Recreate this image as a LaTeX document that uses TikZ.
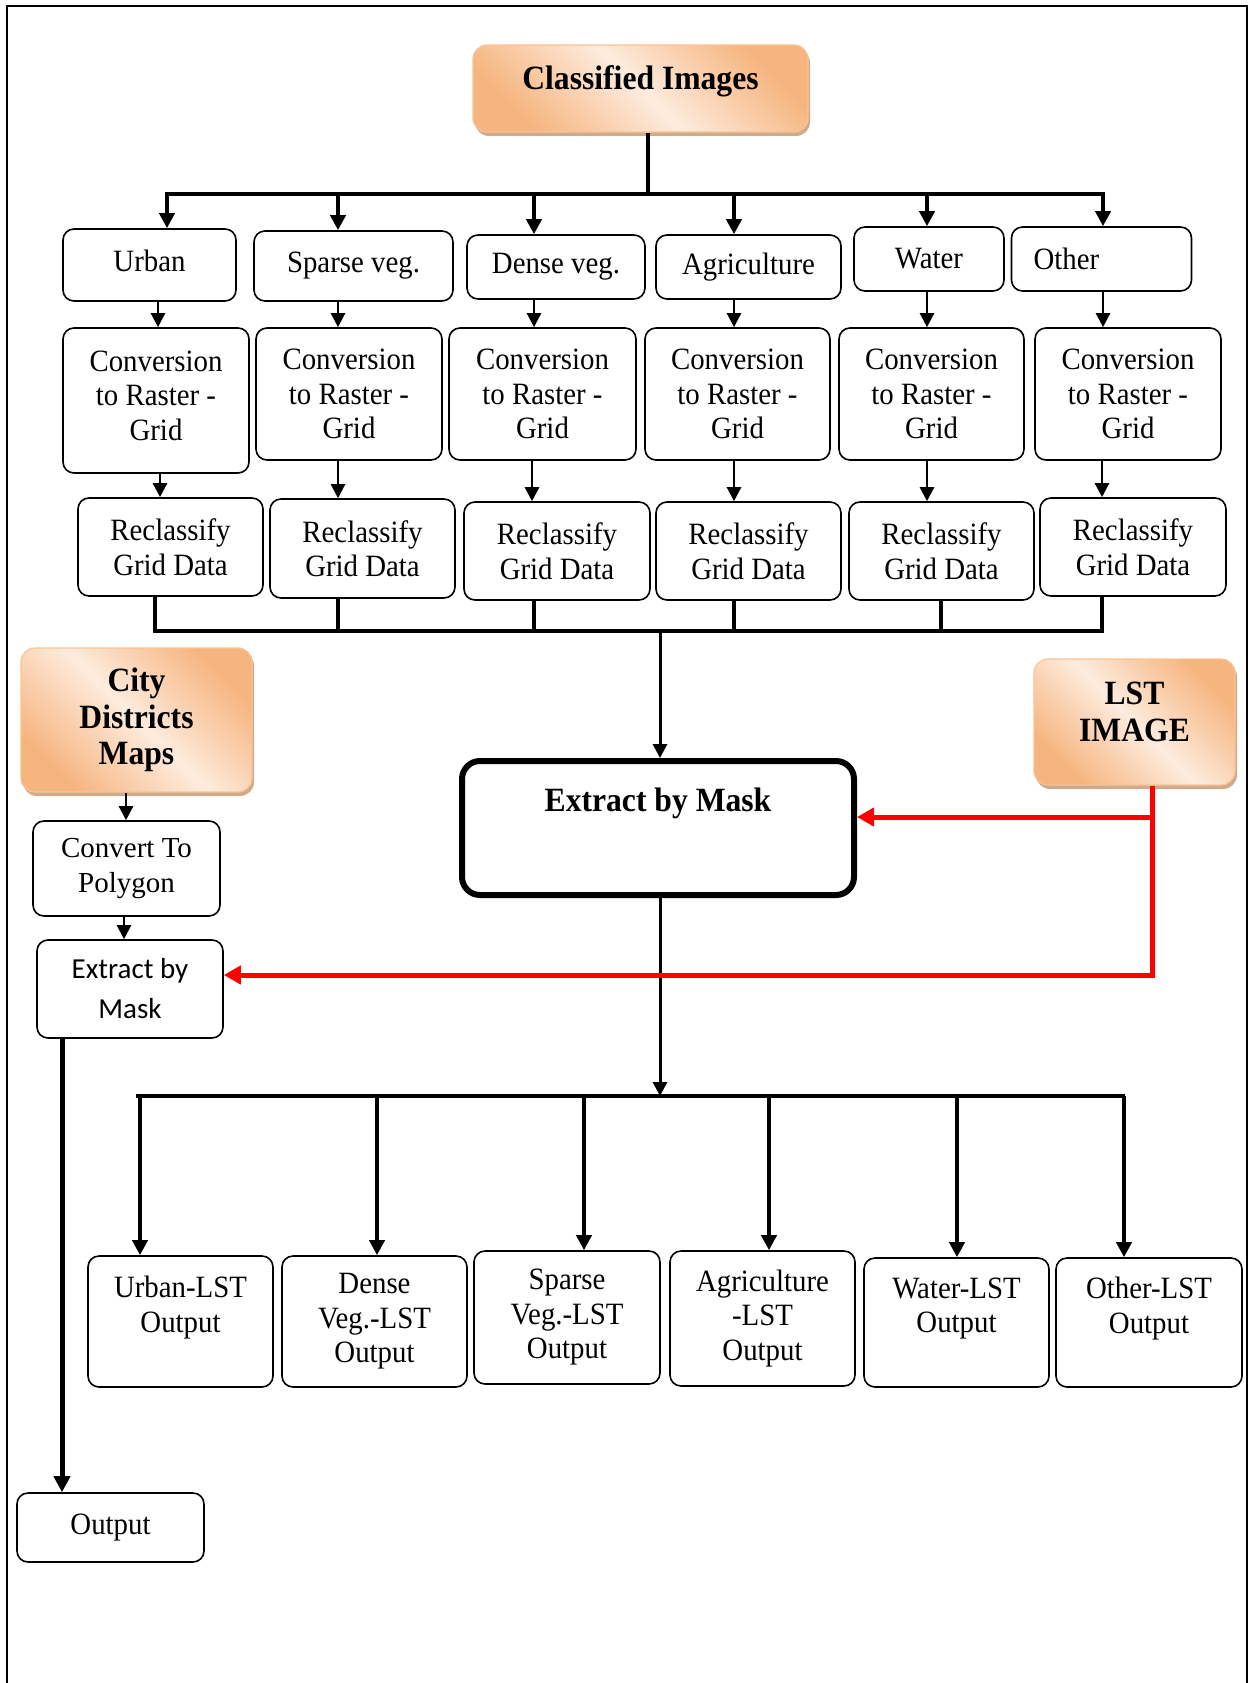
\documentclass[tikz,border=0pt]{standalone}
\usepackage{fontspec}
\setmainfont{Liberation Serif}[FakeStretch=0.93]
\newfontfamily\polyfont{Liberation Serif}
\newfontfamily\calfont{Carlito}
\usetikzlibrary{arrows.meta,shadows,calc}
\definecolor{pkd}{RGB}{246,180,126}
\definecolor{pkl}{RGB}{253,236,222}
\definecolor{pkb}{RGB}{248,196,150}
\definecolor{pks}{RGB}{196,150,112}
\newcommand\myfs{\fontsize{31}{34.5}\selectfont}
\newcommand\myfb{\fontsize{34}{36.5}\selectfont\bfseries}
\newcommand\mypoly{\polyfont\fontsize{29}{35}\selectfont}
\newcommand\mycal{\calfont\fontsize{29}{40}\selectfont}
\begin{document}
\begin{tikzpicture}[x=1pt,y=-1pt,
  box/.style={draw, line width=1.6pt, rounded corners=11pt, align=center, inner sep=0pt, font=\myfs},
  obox/.style={draw=pkb, line width=1.2pt, rounded corners=14pt, align=center, inner sep=0pt, font=\myfb,
     top color=pkd, bottom color=pkd, middle color=pkl, shading angle=-45,
     drop shadow={shadow xshift=2pt, shadow yshift=-4pt, fill=pks, opacity=0.8}},
  thinarrow/.style={line width=2.4pt, -{Triangle[length=14pt,width=14pt]}},
  busline/.style={line width=4pt},
  busarrow/.style={line width=4pt, -{Triangle[length=15pt,width=15pt]}},
  redarrow/.style={line width=5pt, color=red, -{Triangle[length=17pt,width=18pt]}},
]
\useasboundingbox (0,0) rectangle (1250,1683);
\fill[white] (0,0) rectangle (1250,1683);
\draw[line width=2.5pt] (7,1695) -- (7,6) -- (1247,6) -- (1247,1695);

% source boxes
\node[obox, minimum width=335, minimum height=87] (class) at (640.5,88.5) {Classified Images\\[-15pt]\mbox{}};
\node[obox, minimum width=231, minimum height=144] (city) at (136.5,720) {City\\Districts\\Maps};
\node[obox, minimum width=201, minimum height=126] (lst) at (1134.5,722) {LST\\IMAGE\\[-16pt]\mbox{}};

% categories
\node[box, minimum width=173, minimum height=72] (cat1) at (149.5,265) {Urban\\[-26pt]\mbox{}};
\node[box, minimum width=199, minimum height=70] (cat2) at (353.5,266) {Sparse veg.};
\node[box, minimum width=178, minimum height=64] (cat3) at (556,267) {Dense veg.};
\node[box, minimum width=185, minimum height=64] (cat4) at (748.5,267) {Agriculture};
\node[box, minimum width=150, minimum height=64] (cat5) at (929,259) {Water};
\node[box, minimum height=64, text width=136pt, inner xsep=22pt, align=left] (cat6) at (1101.5,259) {Other};

% conversion
\node[box, minimum width=186, minimum height=145] (conv1) at (156,400.5) {Conversion\\to Raster -\\Grid\\[-24pt]\mbox{}};
\node[box, minimum width=186, minimum height=132] (conv2) at (349,394) {Conversion\\to Raster -\\Grid};
\node[box, minimum width=187, minimum height=132] (conv3) at (542.5,394) {Conversion\\to Raster -\\Grid};
\node[box, minimum width=185, minimum height=132] (conv4) at (737.5,394) {Conversion\\to Raster -\\Grid};
\node[box, minimum width=185, minimum height=132] (conv5) at (931.5,394) {Conversion\\to Raster -\\Grid};
\node[box, minimum width=186, minimum height=132] (conv6) at (1128,394) {Conversion\\to Raster -\\Grid};

% reclassify
\node[box, minimum width=185, minimum height=98] (rec1) at (170.5,547) {Reclassify\\Grid Data};
\node[box, minimum width=185, minimum height=99] (rec2) at (362.5,548.5) {Reclassify\\Grid Data};
\node[box, minimum width=186, minimum height=98] (rec3) at (557,551) {Reclassify\\Grid Data};
\node[box, minimum width=185, minimum height=98] (rec4) at (748.5,551) {Reclassify\\Grid Data};
\node[box, minimum width=185, minimum height=98] (rec5) at (941.5,551) {Reclassify\\Grid Data};
\node[box, minimum width=186, minimum height=98] (rec6) at (1133,547) {Reclassify\\Grid Data};

% extract by mask (main)
\node[box, line width=6pt, rounded corners=18pt, font=\myfb, minimum width=392, minimum height=134] (ext) at (658,828) {Extract by Mask\\[20pt]\mbox{}};

% left chain
\node[box, font=\mypoly, minimum width=187, minimum height=95] (poly) at (126.5,868.5) {Convert To\\Polygon};
\node[box, font=\mycal, minimum width=186, minimum height=98] (sext) at (130,989) {Extract by\\Mask};
\node[box, minimum width=187, minimum height=69] (out0) at (110.5,1527.5) {Output};

% outputs
\node[box, minimum width=185, minimum height=131] (o1) at (180.5,1321.5) {Urban-LST\\Output\\\mbox{}};
\node[box, minimum width=185, minimum height=131] (o2) at (374.5,1321.5) {Dense\\Veg.-LST\\Output};
\node[box, minimum width=186, minimum height=133] (o3) at (567,1317.5) {Sparse\\Veg.-LST\\Output};
\node[box, minimum width=185, minimum height=135] (o4) at (762.5,1318.5) {Agriculture\\-LST\\Output};
\node[box, minimum width=185, minimum height=129] (o5) at (956.5,1322.5) {Water-LST\\Output\\\mbox{}};
\node[box, minimum width=186, minimum height=129] (o6) at (1149,1322.5) {Other-LST\\Output\\\mbox{}};

% top bus
\coordinate (t1) at (648,194);
\draw[busline] (class.south -| t1) -- (t1);
\draw[busline] (165,194) -- (1105,194);
\foreach \x/\n in {167/1,338/2,534/3,734/4,927/5,1103/6}{
  \coordinate (u\n) at (\x,194);
  \draw[busarrow] (u\n) -- (u\n |- cat\n.north);
}
% category -> conversion
\foreach \x/\n in {158/1,338/2,534/3,734/4,927/5,1103/6}{
  \coordinate (v\n) at (\x,0);
  \draw[thinarrow] (v\n |- cat\n.south) -- (v\n |- conv\n.north);
}
% conversion -> reclassify
\foreach \x/\n in {160/1,338/2,532/3,734/4,927/5,1102/6}{
  \coordinate (w\n) at (\x,0);
  \draw[thinarrow] (w\n |- conv\n.south) -- (w\n |- rec\n.north);
}
% reclassify -> bus 2
\foreach \x/\n in {155/1,338/2,534/3,734/4,941/5,1102/6}{
  \coordinate (b\n) at (\x,631);
  \draw[busline] (b\n |- rec\n.south) -- (b\n);
}
\draw[busline] (153,631) -- (1104,631);
\coordinate (m2) at (660,631);
\draw[thinarrow, line width=3pt] (m2) -- (m2 |- ext.north);

% extract -> bus 3
\coordinate (m3) at (660,1096);
\draw[thinarrow, line width=3pt] (ext.south -| m3) -- (m3);
\draw[busline] (136,1096) -- (1125,1096);
\foreach \x/\n in {140/1,377/2,584/3,769/4,957/5,1124/6}{
  \coordinate (d\n) at (\x,1096);
  \draw[busarrow] (d\n) -- (d\n |- o\n.north);
}

% left chain connectors
\coordinate (p1) at (126,0);
\draw[thinarrow] (p1 |- city.south) -- (p1 |- poly.north);
\coordinate (p2) at (124,0);
\draw[thinarrow] (p2 |- poly.south) -- (p2 |- sext.north);
\coordinate (p3) at (62,0);
\draw[line width=5pt, -{Triangle[length=16pt,width=16pt]}] (p3 |- sext.south) -- (p3 |- out0.north);

% red connectors
\coordinate (r1) at (1152,817);
\coordinate (r2) at (1152,975);
\draw[redarrow] (lst.south -| r1) -- (r2) -- (r2 -| sext.east);
\draw[redarrow] (r1) -- (r1 -| ext.east);
\end{tikzpicture}
\end{document}
